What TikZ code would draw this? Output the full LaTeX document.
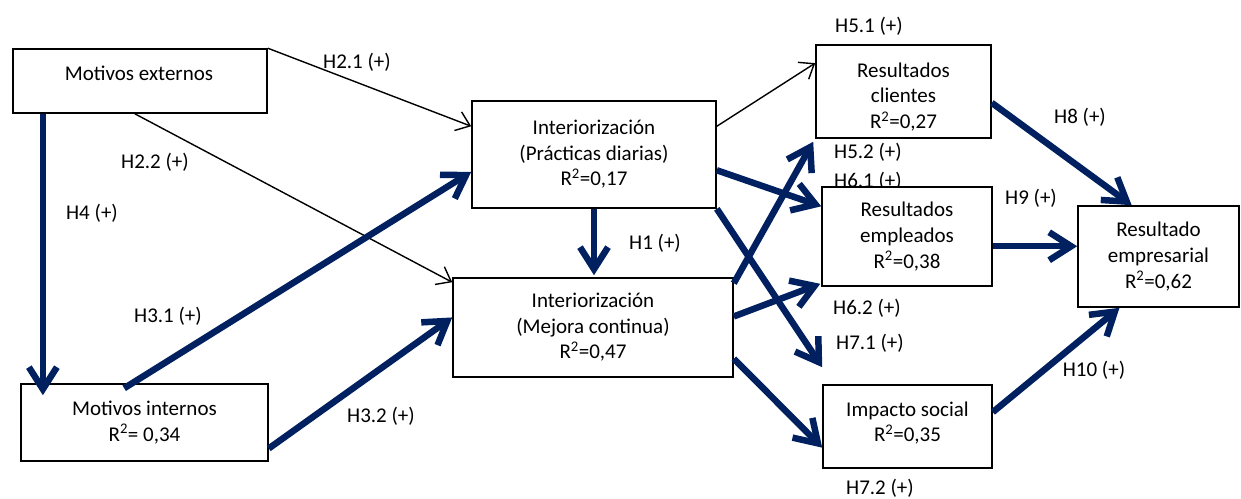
\documentclass[tikz,border=0pt]{standalone}
\usepackage{fontspec}
\setmainfont{Carlito}
\usetikzlibrary{arrows.meta,calc}
\definecolor{navy}{RGB}{0,32,96}
\begin{document}
\begin{tikzpicture}[x=1pt,y=-1pt,
  every node/.style={font=\fontsize{21pt}{25.6pt}\selectfont},
  box/.style={draw=black, line width=1.6pt, fill=white, align=center, inner sep=0pt},
  lbl/.style={inner sep=0pt, align=center},
  thinarr/.style={draw=black, line width=1.4pt, -{Straight Barb[length=13pt,width=20pt]}},
  thickarr/.style={draw=navy, line width=6.5pt, -{Straight Barb[length=22pt,width=28pt]}},
]
\useasboundingbox (0,0) rectangle (1241,498);

% labels
\node[lbl] (l21) at (357,62) {H2.1 (+)};
\node[lbl] (l22) at (155,162) {H2.2 (+)};
\node[lbl] (l4) at (92,213) {H4 (+)};
\node[lbl] (l1) at (655,243) {H1 (+)};
\node[lbl] (l31) at (168,316) {H3.1 (+)};
\node[lbl] (l32) at (381,416) {H3.2 (+)};
\node[lbl] (l51) at (869,26) {H5.1 (+)};
\node[lbl] (l52) at (868,152) {H5.2 (+)};
\node[lbl] (l61) at (868,181) {H6.1 (+)};
\node[lbl] (l8) at (1080,117) {H8 (+)};
\node[lbl] (l9) at (1031,198) {H9 (+)};
\node[lbl] (l62) at (867,308) {H6.2 (+)};
\node[lbl] (l71) at (870,343) {H7.1 (+)};
\node[lbl] (l10) at (1094,370) {H10 (+)};
\node[lbl] (l72) at (880,488) {H7.2 (+)};

% boxes
\node[box, minimum width=254pt, minimum height=64pt] (me) at (140,81) {};
\node[lbl] (metext) at (139,73) {Motivos externos};
\node[box, minimum width=244pt, minimum height=107pt] (pd) at (594,154.5) {Interiorización\\(Prácticas diarias)\\R\textsuperscript{2}=0,17};
\node[box, minimum width=280pt, minimum height=99pt] (mc) at (593,327.5) {Interiorización\\(Mejora continua)\\R\textsuperscript{2}=0,47};
\node[box, minimum width=247pt, minimum height=77pt] (mi) at (144.5,422.5) {Motivos internos\\R\textsuperscript{2}= 0,34};
\node[box, minimum width=175pt, minimum height=93pt] (rc) at (903.5,91.5) {};
\node[lbl] (rctext) at (903.5,97) {Resultados\\clientes\\R\textsuperscript{2}=0,27};
\node[box, minimum width=170pt, minimum height=99pt] (re) at (907,236.5) {Resultados\\empleados\\R\textsuperscript{2}=0,38};
\node[box, minimum width=161pt, minimum height=101pt] (emp) at (1158.5,256.5) {Resultado\\empresarial\\R\textsuperscript{2}=0,62};
\node[box, minimum width=169pt, minimum height=83pt] (is) at (907.5,426.5) {};
\node[lbl] (istext) at (907.5,423) {Impacto social\\R\textsuperscript{2}=0,35};

% thin connectors
\draw[thinarr] (me.north east) -- ($(pd.north west)!0.24!(pd.south west)$);
\draw[thinarr] ($(me.south west)!0.48!(me.south east)$) -- ($(mc.north west)!0.05!(mc.south west)$);
\draw[thinarr] ($(pd.north east)!0.24!(pd.south east)$) -- ($(rc.north west)!0.2!(rc.south west)$);

% thick connectors
\coordinate (h4s) at ($(me.south west)!0.12!(me.south east)$);
\coordinate (h4e) at ($(h4s |- mi.north)+(0,12)$);
\draw[thickarr] (h4s) -- (h4e);
\draw[thickarr] ($(mi.north west)+(104,5)$) -- ($(pd.north west)!0.66!(pd.south west)$);
\draw[thickarr] ($(mi.north east)!0.83!(mi.south east)$) -- ($(mc.north west)!0.40!(mc.south west)$);
\draw[thickarr] (pd.south) -- ($(pd.south |- mc.north)+(0,-2)$);
\draw[thickarr] ($(pd.north east)!0.645!(pd.south east)$) -- ($(re.north west)!0.2!(re.south west)$);
\draw[thickarr] (pd.south east) -- ($(is.north west)+(0,-17)$);
\draw[thickarr] ($(mc.north east)!0.06!(mc.south east)$) -- ($(rc.south west)+(-2,3)$);
\draw[thickarr] ($(mc.north east)!0.39!(mc.south east)$) -- ($(re.south west)+(-1,-3)$);
\draw[thickarr] ($(mc.north east)!0.81!(mc.south east)$) -- ($(is.north west)!0.75!(is.south west)$);
\draw[thickarr] ($(rc.north east)!0.62!(rc.south east)$) -- ($(emp.north west)!0.335!(emp.north east)$);
\coordinate (h9e) at ($(emp.north west)!0.4!(emp.south west)$);
\draw[thickarr] (re.east |- h9e) -- (h9e);
\draw[thickarr] ($(is.north east)!0.33!(is.south east)$) -- ($(emp.south west)!0.26!(emp.south east)$);
\end{tikzpicture}
\end{document}
